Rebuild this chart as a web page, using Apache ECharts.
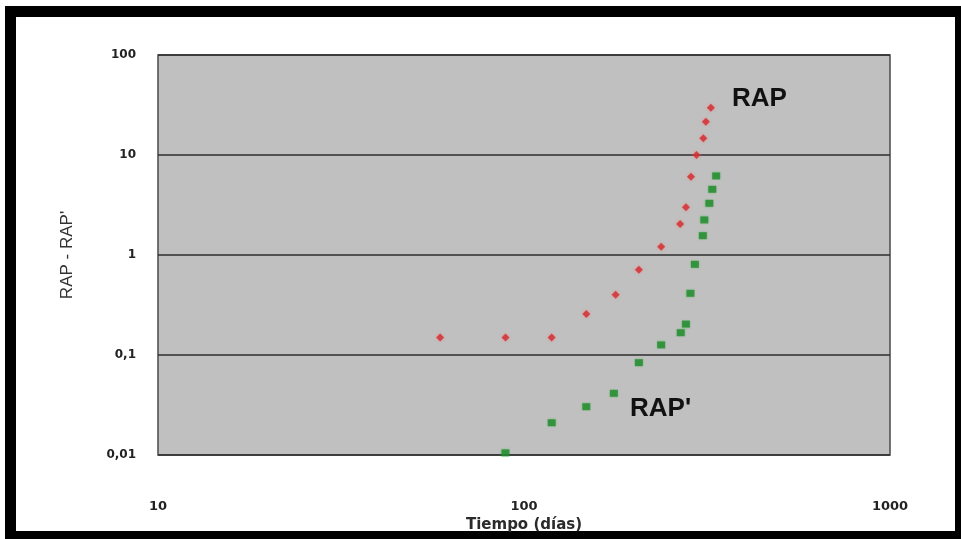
<!DOCTYPE html>
<html>
<head>
<meta charset="utf-8">
<script src="https://cdn.jsdelivr.net/npm/echarts@6/dist/echarts.min.js"></script>
<style>
html,body{margin:0;padding:0;background:#fff;}
#c{width:961px;height:539px;}
</style>
</head>
<body>
<div id="c"></div>
<script>
// Data (log-log)
const rapTime = [59, 89, 119, 148, 178, 206, 237, 267, 277, 286, 296, 309, 314, 324];
const rapValue = [0.15, 0.15, 0.15, 0.257, 0.40, 0.71, 1.21, 2.04, 3.0, 6.07, 10, 14.7, 21.5, 29.7];
const rapPrimeTime = [89, 119, 148, 176, 206, 237, 268, 277, 285, 293, 308, 311, 321, 327, 335];
const rapPrimeValue = [0.0105, 0.021, 0.0304, 0.0414, 0.0838, 0.126, 0.167, 0.204, 0.414, 0.807, 1.56, 2.24, 3.29, 4.54, 6.17];
const yTickLabels = ['0,01', '0,1', '1', '10', '100'];
const xTickLabels = ['10', '100', '1000'];

const chart = echarts.init(document.getElementById('c'));
const pair = (xs, ys) => xs.map((x, i) => [x, ys[i]]);

chart.setOption({
  animation: false,
  backgroundColor: '#ffffff',
  grid: {
    left: 158, right: 71, top: 55, bottom: 84,
    show: true, backgroundColor: '#c0c0c0', borderColor: '#4a4a4a', borderWidth: 1.5
  },
  xAxis: {
    type: 'log', logBase: 10, min: 10, max: 1000,
    name: 'Tiempo (días)', nameLocation: 'middle', nameGap: 58,
    nameTextStyle: { fontFamily: 'DejaVu Sans', fontWeight: 'bold', fontSize: 15, color: '#2a2a2a' },
    axisLine: { show: false }, axisTick: { show: false },
    splitLine: { show: false },
    axisLabel: {
      margin: 45, fontFamily: 'DejaVu Sans', fontWeight: 'bold', fontSize: 13, color: '#222',
      formatter: v => xTickLabels[Math.round(Math.log10(v)) - 1]
    }
  },
  yAxis: {
    type: 'log', logBase: 10, min: 0.01, max: 100,
    name: "RAP - RAP'", nameLocation: 'middle', nameGap: 82, nameRotate: 90,
    nameTextStyle: { fontFamily: 'Liberation Sans', fontSize: 17, color: '#333' },
    axisLine: { show: false }, axisTick: { show: false },
    splitLine: { show: true, lineStyle: { color: '#2e2e2e', width: 1.5 } },
    axisLabel: {
      margin: 22, fontFamily: 'DejaVu Sans', fontWeight: 'bold', fontSize: 12, color: '#222',
      formatter: v => yTickLabels[Math.round(Math.log10(v)) + 2]
    }
  },
  series: [
    {
      name: 'RAP', type: 'scatter', data: pair(rapTime, rapValue),
      symbol: 'diamond', symbolSize: 8,
      itemStyle: { color: '#cf2a2e', shadowColor: 'rgba(255,120,120,0.8)', shadowBlur: 3 }
    },
    {
      name: "RAP'", type: 'scatter', data: pair(rapPrimeTime, rapPrimeValue),
      symbol: 'rect', symbolSize: [8, 7],
      itemStyle: { color: '#1e8a2c', shadowColor: 'rgba(60,180,60,0.6)', shadowBlur: 2 }
    }
  ],
  graphic: [
    { type: 'rect', shape: { x: 5, y: 6, width: 956, height: 11 }, style: { fill: '#000' } },
    { type: 'rect', shape: { x: 5, y: 6, width: 11, height: 533 }, style: { fill: '#000' } },
    { type: 'rect', shape: { x: 955, y: 6, width: 6, height: 533 }, style: { fill: '#000' } },
    { type: 'rect', shape: { x: 5, y: 531, width: 956, height: 8 }, style: { fill: '#000' } },
    { type: 'text', x: 732, y: 86, style: { text: 'RAP', fontFamily: 'Liberation Sans', fontWeight: 'bold', fontSize: 26, fill: '#111' } },
    { type: 'text', x: 630, y: 396, style: { text: "RAP'", fontFamily: 'Liberation Sans', fontWeight: 'bold', fontSize: 26, fill: '#111' } }
  ]
});
</script>
</body>
</html>
